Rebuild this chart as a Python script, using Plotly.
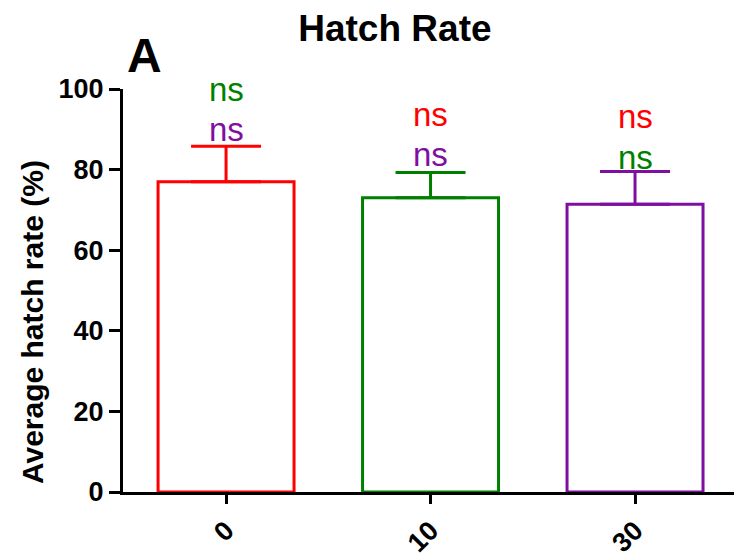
import plotly.graph_objects as go

# Hatch rate per dose group (mean with upper SEM)
doses = ["0", "10", "30"]
mean_rate = [77.0, 73.0, 71.4]
sem_rate = [8.8, 6.3, 8.1]
bar_colors = ["#ff0000", "#008000", "#7f0fa0"]

# Significance labels above each bar: (text, colour, height on the y scale)
sig_labels = [
    [("ns", "#008000", 99.8), ("ns", "#7f0fa0", 89.9)],
    [("ns", "#ff0000", 93.6), ("ns", "#7f0fa0", 83.8)],
    [("ns", "#ff0000", 93.1), ("ns", "#008000", 83.1)],
]

y_ticks = [0, 20, 40, 60, 80, 100]

FONT = "Liberation Sans, Arial, Helvetica, sans-serif"

fig = go.Figure()
for dose, m, s, c in zip(doses, mean_rate, sem_rate, bar_colors):
    fig.add_trace(go.Bar(
        x=[dose], y=[m],
        width=0.665,
        marker=dict(color="white", line=dict(color=c, width=3)),
        error_y=dict(type="data", symmetric=False, array=[s], arrayminus=[0],
                     color=c, thickness=3, width=35),
        showlegend=False,
    ))

annotations = []
# category positions are addressed by index so numeric-looking names are not misread
for idx, labels in enumerate(sig_labels):
    for text, col, yv in labels:
        annotations.append(dict(
            x=idx, y=yv, xref="x", yref="y", text=text, showarrow=False,
            font=dict(family=FONT, size=33, color=col),
            xanchor="center", yanchor="middle",
        ))

annotations.append(dict(
    x=0.036, y=1.083, xref="paper", yref="paper", text="A", showarrow=False,
    font=dict(family=FONT, size=48, color="black", weight="bold"),
    xanchor="center", yanchor="middle",
))

# y-axis title placed as rotated text so it can sit slightly below the axis centre
annotations.append(dict(
    x=(32 - 123) / 611, y=0.5 - (325 - 293) / 408, xref="paper", yref="paper",
    text="Average hatch rate (%)", textangle=-90, showarrow=False,
    font=dict(family=FONT, size=30, color="black", weight="bold"),
    xanchor="center", yanchor="middle",
))

fig.update_layout(
    width=734, height=558,
    margin=dict(l=123, r=0, t=89, b=61, pad=0),
    plot_bgcolor="white", paper_bgcolor="white",
    barmode="overlay",
    title=dict(text="Hatch Rate", x=0.538, xanchor="center", y=0.95, yanchor="middle",
               font=dict(family=FONT, size=37, color="black", weight="bold")),
    xaxis=dict(
        type="category", range=[-0.504, 2.484],
        showline=True, linecolor="black", linewidth=3,
        ticks="outside", ticklen=9, tickwidth=3, tickcolor="black",
        tickangle=-45, tickfont=dict(family=FONT, size=27, color="black", weight="bold"),
        showgrid=False, zeroline=False,
    ),
    yaxis=dict(
        range=[0, 100], tickvals=y_ticks,
        showline=True, linecolor="black", linewidth=3,
        ticks="outside", ticklen=11, tickwidth=3, tickcolor="black",
        tickfont=dict(family=FONT, size=27, color="black", weight="bold"),
        showgrid=False, zeroline=False,
    ),
    annotations=annotations,
)

fig.write_html("out.html")
